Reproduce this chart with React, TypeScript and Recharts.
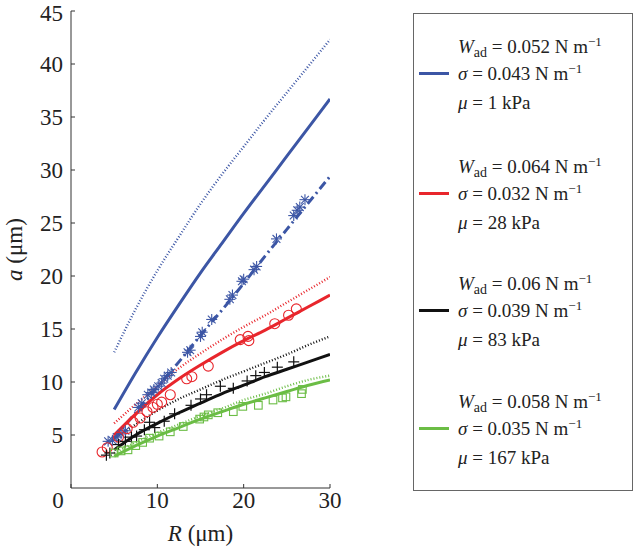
import { ComposedChart, Line, Scatter, XAxis, YAxis, Label } from "recharts";

const BLUE = "#3c56a5";
const RED = "#e8262c";
const BLACK = "#111111";
const GREEN = "#6bbd45";
const FONT = "Liberation Serif, Tinos, DejaVu Serif, serif";

// model curves sampled along R (µm)
const rGrid = [5, 7.5, 10, 12.5, 15, 17.5, 20, 22.5, 25, 27.5, 30];
const blueDottedA = [12.8, 16.9, 20.5, 23.7, 26.8, 29.6, 32.2, 34.8, 37.3, 39.8, 42.3];
const blueSolidA = [7.4, 10.9, 14.2, 17.3, 20.3, 23.1, 25.9, 28.6, 31.3, 34.0, 36.7];
const blueDashA = [4.7, 7.1, 9.5, 11.9, 14.4, 16.8, 19.3, 21.9, 24.4, 26.9, 29.4];
const redDottedA = [6.1, 7.9, 9.6, 11.3, 12.7, 14.0, 15.2, 16.3, 17.5, 18.7, 19.9];
const redSolidA = [5.0, 7.0, 8.8, 10.3, 11.6, 12.8, 13.9, 14.9, 16.0, 17.1, 18.2];
const blackDottedA = [4.6, 6.0, 7.3, 8.4, 9.3, 10.2, 11.0, 11.8, 12.6, 13.5, 14.3];
const blackSolidA = [3.6, 5.0, 6.1, 7.1, 8.0, 8.9, 9.7, 10.5, 11.2, 11.9, 12.6];
const greenDottedA = [3.3, 4.3, 5.2, 6.0, 6.8, 7.5, 8.3, 8.9, 9.6, 10.2, 10.6];
const greenSolidA = [3.0, 4.0, 4.9, 5.7, 6.5, 7.2, 7.9, 8.5, 9.1, 9.7, 10.2];

// measured points [R, a]
const blueMeasured = [
  [4.3, 4.4], [4.8, 4.5], [5.3, 4.8], [5.8, 5.1], [6.3, 5.4], [7.8, 7.6], [8.2, 8.0],
  [8.9, 8.8], [9.3, 9.0], [9.6, 9.3], [10.1, 9.6], [10.5, 9.9], [10.8, 10.3], [11.2, 10.6],
  [11.6, 10.9], [13.5, 12.8], [13.8, 13.0], [15.0, 14.3], [15.2, 14.7], [16.3, 15.9],
  [18.4, 17.8], [18.7, 18.2], [19.8, 19.5], [20.0, 19.7], [21.2, 20.6], [21.5, 20.9],
  [23.8, 23.5], [25.8, 25.7], [26.2, 26.2], [26.5, 26.5], [27.1, 27.2],
];
const redMeasured = [
  [3.6, 3.4], [4.2, 3.8], [5.5, 4.8], [6.5, 5.6], [7.2, 6.2], [8.0, 6.6], [8.8, 7.2],
  [9.5, 7.6], [10.0, 7.9], [10.5, 8.1], [11.5, 8.8], [13.4, 10.3], [14.0, 10.5],
  [15.9, 11.5], [19.6, 14.0], [20.5, 14.3], [20.6, 13.9], [23.6, 15.5], [25.2, 16.3], [26.1, 16.9],
];
const blackMeasured = [
  [4.1, 3.1], [4.5, 3.3], [5.5, 4.1], [6.3, 4.4], [7.0, 4.8], [7.6, 4.9], [8.5, 5.5],
  [9.1, 6.2], [9.7, 5.7], [10.8, 6.3], [12.0, 7.0], [13.9, 7.8], [15.0, 8.4], [15.7, 8.8],
  [17.3, 9.6], [18.8, 9.4], [20.4, 10.1], [21.4, 10.6], [22.4, 10.9], [23.9, 11.4], [25.8, 11.9],
];
const greenMeasured = [
  [5.0, 3.3], [5.8, 3.5], [6.6, 3.6], [7.5, 4.0], [8.3, 4.3], [9.1, 4.7], [10.2, 4.9],
  [11.5, 5.3], [13.0, 5.8], [14.9, 6.5], [15.4, 6.7], [15.9, 6.9], [17.0, 7.1], [18.8, 7.2],
  [19.9, 7.7], [21.7, 7.8], [23.4, 8.3], [24.5, 8.5], [24.9, 8.6], [26.7, 8.9], [26.8, 9.3],
];

const xTicks = [0, 10, 20, 30];
const yTicks = [5, 10, 15, 20, 25, 30, 35, 40, 45];

const legendItems = [
  { color: BLUE, wad: "0.052", sigma: "0.043", mu: "1" },
  { color: RED, wad: "0.064", sigma: "0.032", mu: "28" },
  { color: BLACK, wad: "0.06", sigma: "0.039", mu: "83" },
  { color: GREEN, wad: "0.058", sigma: "0.035", mu: "167" },
];

const curve = (ys: number[]) => rGrid.map((x, i) => ({ x, y: ys[i] }));
const pts = (list: number[][]) => list.map(([x, y]) => ({ x, y }));

function Asterisk(props: any) {
  const { cx, cy } = props;
  const s = 5.5;
  const d = 3.9;
  return (
    <g stroke={BLUE} strokeWidth={1.1}>
      <line x1={cx - s} y1={cy} x2={cx + s} y2={cy} />
      <line x1={cx} y1={cy - s} x2={cx} y2={cy + s} />
      <line x1={cx - d} y1={cy - d} x2={cx + d} y2={cy + d} />
      <line x1={cx - d} y1={cy + d} x2={cx + d} y2={cy - d} />
    </g>
  );
}

function Ring(props: any) {
  const { cx, cy } = props;
  return <circle cx={cx} cy={cy} r={5} fill="none" stroke={RED} strokeWidth={1.1} />;
}

function Plus(props: any) {
  const { cx, cy } = props;
  const s = 5.5;
  return (
    <g stroke={BLACK} strokeWidth={1.2}>
      <line x1={cx - s} y1={cy} x2={cx + s} y2={cy} />
      <line x1={cx} y1={cy - s} x2={cx} y2={cy + s} />
    </g>
  );
}

function Box(props: any) {
  const { cx, cy } = props;
  return <rect x={cx - 3.8} y={cy - 3.8} width={7.6} height={7.6} fill="none" stroke={GREEN} strokeWidth={1.1} />;
}

function XTick(props: any) {
  const { x, y, payload } = props;
  const shift = payload.value === 0 ? -13 : 0;
  return (
    <text x={x + shift} y={y} dy="0.71em" textAnchor="middle" style={{ fontFamily: FONT }} fontSize={23} fill="#222">
      {payload.value}
    </text>
  );
}

function YLabel(props: any) {
  const { viewBox } = props;
  const cx = viewBox.x + 22;
  const cy = viewBox.y + viewBox.height / 2;
  return (
    <text x={cx} y={cy} transform={`rotate(-90 ${cx} ${cy})`} textAnchor="middle" style={{ fontFamily: FONT }} fontSize={23} fill="#222">
      <tspan fontStyle="italic">a</tspan> (μm)
    </text>
  );
}

function XLabel(props: any) {
  const { viewBox } = props;
  const cx = viewBox.x + viewBox.width / 2;
  return (
    <text x={cx} y={viewBox.y + 53} textAnchor="middle" style={{ fontFamily: FONT }} fontSize={23} fill="#222">
      <tspan fontStyle="italic">R</tspan> (μm)
    </text>
  );
}

function LegendBox() {
  const lineYs = [73, 193, 310, 428];
  return (
    <div
      style={{
        position: "absolute",
        left: 413,
        top: 13,
        width: 218,
        height: 476,
        border: "1px solid #666",
        fontFamily: FONT,
        fontSize: 19,
        color: "#222",
      }}
    >
      {legendItems.map((item, i) => {
        const ly = lineYs[i] - 14;
        const line = (top: number, content: any) => (
          <div style={{ position: "absolute", left: 44, top, lineHeight: "19px", whiteSpace: "nowrap" }}>{content}</div>
        );
        return (
          <div key={i}>
            <div style={{ position: "absolute", left: 5, top: ly - 1, width: 30, height: 3, background: item.color }} />
            {line(
              ly - 36,
              <>
                <i>W</i>
                <span style={{ fontSize: 14, position: "relative", top: 4 }}>ad</span> = {item.wad} N m
                <span style={{ fontSize: 13, position: "relative", top: -7 }}>−1</span>
              </>
            )}
            {line(
              ly - 9,
              <>
                <i>σ</i> = {item.sigma} N m
                <span style={{ fontSize: 13, position: "relative", top: -7 }}>−1</span>
              </>
            )}
            {line(
              ly + 20,
              <>
                <i>μ</i> = {item.mu} kPa
              </>
            )}
          </div>
        );
      })}
    </div>
  );
}

export default function App() {
  return (
    <div style={{ position: "absolute", left: 0, top: 0, width: 634, height: 555, background: "#fff", fontFamily: FONT }}>
      <ComposedChart width={634} height={555} margin={{ top: 11, right: 304, bottom: 0, left: 0 }} style={{ fontFamily: FONT }}>
        <XAxis
          dataKey="x"
          type="number"
          domain={[0, 30]}
          ticks={xTicks}
          height={67}
          stroke="#333"
          tickSize={-4}
          tickMargin={8}
          tick={<XTick />}
          allowDataOverflow
        >
          <Label content={<XLabel />} />
        </XAxis>
        <YAxis
          dataKey="y"
          type="number"
          domain={[0, 45]}
          ticks={yTicks}
          width={71}
          stroke="#333"
          tickSize={-4}
          tickMargin={12}
          tick={{ fontSize: 23, fill: "#222", style: { fontFamily: FONT } }}
          allowDataOverflow
        >
          <Label content={<YLabel />} />
        </YAxis>

        <Scatter data={pts(blueMeasured)} shape={<Asterisk />} isAnimationActive={false} />
        <Scatter data={pts(redMeasured)} shape={<Ring />} isAnimationActive={false} />
        <Scatter data={pts(blackMeasured)} shape={<Plus />} isAnimationActive={false} />
        <Scatter data={pts(greenMeasured)} shape={<Box />} isAnimationActive={false} />

        <Line data={curve(blueDottedA)} dataKey="y" type="monotone" stroke={BLUE} strokeWidth={2.4} strokeDasharray="1 2" dot={false} isAnimationActive={false} />
        <Line data={curve(blueSolidA)} dataKey="y" type="monotone" stroke={BLUE} strokeWidth={3} dot={false} isAnimationActive={false} />
        <Line data={curve(blueDashA)} dataKey="y" type="monotone" stroke={BLUE} strokeWidth={3} strokeDasharray="9 4 2 4" dot={false} isAnimationActive={false} />
        <Line data={curve(redDottedA)} dataKey="y" type="monotone" stroke={RED} strokeWidth={2.4} strokeDasharray="1 2" dot={false} isAnimationActive={false} />
        <Line data={curve(redSolidA)} dataKey="y" type="monotone" stroke={RED} strokeWidth={3} dot={false} isAnimationActive={false} />
        <Line data={curve(blackDottedA)} dataKey="y" type="monotone" stroke={BLACK} strokeWidth={2.4} strokeDasharray="1 2" dot={false} isAnimationActive={false} />
        <Line data={curve(blackSolidA)} dataKey="y" type="monotone" stroke={BLACK} strokeWidth={3} dot={false} isAnimationActive={false} />
        <Line data={curve(greenDottedA)} dataKey="y" type="monotone" stroke={GREEN} strokeWidth={2.4} strokeDasharray="1 2" dot={false} isAnimationActive={false} />
        <Line data={curve(greenSolidA)} dataKey="y" type="monotone" stroke={GREEN} strokeWidth={3} dot={false} isAnimationActive={false} />
      </ComposedChart>
      <LegendBox />
    </div>
  );
}
